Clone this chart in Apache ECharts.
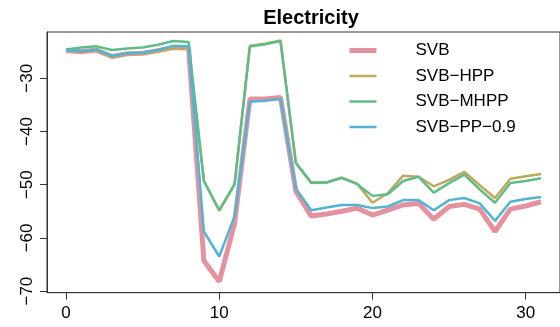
<!DOCTYPE html>
<html>
<head>
<meta charset="utf-8">
<script src="https://cdn.jsdelivr.net/npm/echarts@6/dist/echarts.min.js"></script>
<style>html,body{margin:0;padding:0;background:#fff;}#c{width:560px;height:327px;}</style>
</head>
<body>
<div id="c"></div>
<script>
var seriesNames = ['SVB', 'SVB\u2212HPP', 'SVB\u2212MHPP', 'SVB\u2212PP\u22120.9'];
var svb = [-24.8,-25.0,-24.7,-25.9,-25.4,-25.3,-24.8,-24.2,-24.3,-64.3,-68.2,-57.3,-33.9,-33.9,-33.6,-51.2,-55.9,-55.5,-55.0,-54.4,-55.7,-54.8,-53.8,-53.5,-56.5,-54.1,-53.7,-54.6,-58.8,-54.6,-54.0,-53.2];
var svbHpp = [-24.8,-24.9,-24.8,-26.0,-25.5,-25.4,-24.9,-24.3,-24.4,-49.3,-54.9,-50.0,-23.9,-23.5,-22.9,-45.9,-49.7,-49.6,-48.7,-49.8,-53.4,-51.6,-48.3,-48.5,-50.3,-49.1,-47.6,-50.1,-52.5,-48.9,-48.4,-48.0];
var svbMhpp = [-24.6,-24.2,-24.0,-24.7,-24.4,-24.2,-23.7,-23.0,-23.2,-49.25,-54.8,-49.9,-24.05,-23.6,-23.0,-45.9,-49.6,-49.6,-48.7,-49.9,-52.1,-51.8,-49.3,-48.5,-51.5,-49.7,-48.1,-50.9,-53.4,-49.7,-49.3,-48.8];
var svbPp09 = [-24.7,-24.9,-24.6,-25.8,-25.3,-25.2,-24.7,-23.9,-24.0,-58.8,-63.5,-55.9,-34.4,-34.2,-33.9,-50.7,-54.8,-54.3,-53.8,-53.8,-54.4,-54.1,-52.9,-52.9,-54.8,-52.9,-52.5,-53.5,-56.8,-53.2,-52.7,-52.3];
var xTicks = [0, 10, 20, 30];
var yTicks = [-70, -60, -50, -40, -30];

var allSeries = [svb, svbHpp, svbMhpp, svbPp09];
var colors = ['#E6919F', '#BFA85A', '#5FBC88', '#4FB5D3'];
var widths = [5, 2.5, 2.5, 2.5];

function pairs(arr) { return arr.map(function (v, i) { return [i, v]; }); }

var chart = echarts.init(document.getElementById('c'), null, { renderer: 'canvas' });
var font = 'Liberation Sans, Arial, Helvetica, sans-serif';
chart.setOption({
  animation: false,
  backgroundColor: '#ffffff',
  title: {
    text: 'Electricity', left: 306, top: 3, textAlign: 'center',
    textStyle: { fontFamily: font, fontSize: 20, fontWeight: 'bold', color: '#000' }
  },
  legend: {
    orient: 'vertical', left: 342, top: 37, itemWidth: 27, itemHeight: 14, itemGap: 8.5,
    data: seriesNames.map(function (n, k) {
      return { name: n, lineStyle: { width: widths[k], color: colors[k] } };
    }),
    itemStyle: { opacity: 0 },
    textStyle: { fontFamily: font, fontSize: 17, color: '#000', padding: [0, 0, 0, 34] }
  },
  grid: { left: 47, top: 32, width: 518, height: 260.7, show: true, borderColor: '#333', borderWidth: 1, containLabel: false },
  xAxis: {
    type: 'value', min: -1.24, max: 32.24,
    axisLine: { show: true, onZero: false, lineStyle: { color: '#333', width: 1 } },
    axisTick: { show: true, length: 7, customValues: xTicks, lineStyle: { color: '#333' } },
    axisLabel: { customValues: xTicks, margin: 12, fontFamily: font, fontSize: 17, color: '#000' },
    splitLine: { show: false }
  },
  yAxis: {
    type: 'value', min: -70.3, max: -21.3,
    axisLine: { show: true, onZero: false, lineStyle: { color: '#333', width: 1 } },
    axisTick: { show: true, length: 7, customValues: yTicks, lineStyle: { color: '#333' } },
    axisLabel: { customValues: yTicks, rotate: 90, margin: 11, fontFamily: font, fontSize: 17, color: '#000',
      formatter: function (v) { return String(v).replace('-', '\u2212'); } },
    splitLine: { show: false }
  },
  series: allSeries.map(function (arr, k) {
    return {
      name: seriesNames[k], type: 'line', data: pairs(arr), symbol: 'none',
      lineStyle: { color: colors[k], width: widths[k] }, itemStyle: { color: colors[k] },
      z: 2 + k
    };
  })
});
</script>
</body>
</html>
